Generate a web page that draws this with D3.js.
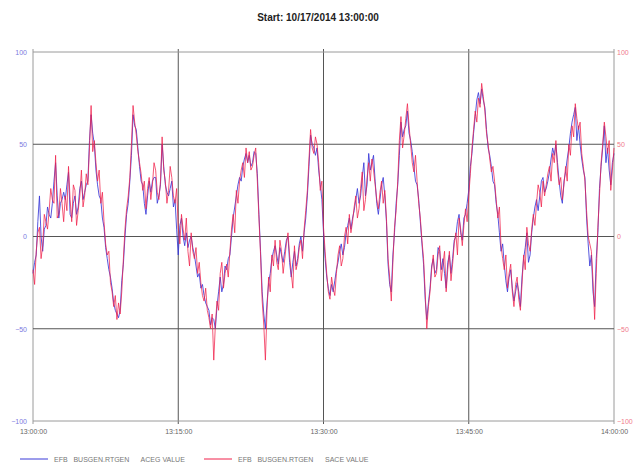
<!DOCTYPE html>
<html>
<head>
<meta charset="utf-8">
<script src="https://cdn.jsdelivr.net/npm/d3@7"></script>
<style>
  body { margin: 0; background: #fff; }
  text { font-family: "Liberation Sans", Arial, sans-serif; }
</style>
</head>
<body>
<svg width="634" height="467"></svg>
<script>
// Data (sampled every 10 seconds, 13:00:00 - 14:00:00)
var startTime = new Date(2014, 9, 17, 13, 0, 0);
var stepSeconds = 10;

var acegValues = [
  -20,-14,-10,8,22,0,-8,4,6,16,12,10,18,30,40,22,10,18,20,24,
  20,28,35,12,10,18,22,12,16,26,30,20,24,28,30,52,66,56,50,36,
  28,22,20,10,5,-6,-12,-18,-22,-28,-36,-40,-42,-44,-40,-24,-15,0,12,18,
  30,44,66,60,58,48,38,30,28,18,12,22,30,24,30,32,32,18,22,28,
  50,38,28,24,22,26,30,16,20,4,-10,6,10,0,-5,2,-6,-2,0,-6,
  -10,-16,-22,-20,-28,-26,-32,-36,-38,-40,-48,-44,-45,-50,-38,-30,-22,-30,-26,-16,
  -18,-12,-10,0,10,16,22,28,32,30,38,42,45,40,44,38,40,46,45,34,
  12,-8,-30,-42,-50,-36,-25,-20,-12,-8,-5,-10,-15,-6,-10,-14,-8,-2,0,-14,
  -22,-14,-8,-16,-12,-4,0,-8,2,10,22,38,55,50,48,44,48,36,28,20,
  2,-12,-22,-28,-32,-26,-30,-24,-18,-14,-8,-4,-10,-6,2,6,10,4,10,14,
  20,26,18,22,32,40,22,28,45,36,40,44,30,18,12,20,28,32,22,8,
  -15,-26,-30,-10,2,18,28,44,62,54,58,60,68,56,52,46,38,30,28,20,
  8,-4,-15,-34,-45,-36,-28,-16,-12,-20,-18,-6,-8,-18,-12,-20,-28,-14,-10,-20,
  -12,-2,0,8,12,2,-2,10,12,18,25,38,45,56,65,74,78,72,80,74,
  70,58,48,44,38,30,28,18,12,2,-8,-4,-15,-24,-30,-22,-18,-28,-35,-30,
  -25,-30,-38,-22,-12,-6,2,-14,-10,2,10,16,20,14,22,30,32,24,26,30,
  35,42,48,44,50,40,30,22,18,30,35,42,48,56,62,66,70,52,60,50,
  42,36,32,10,-4,-16,-10,-30,-38,-12,2,26,38,48,60,40,48,36,28,40,
  45
];

var saceValues = [
  -18,-26,-8,2,5,-12,-5,12,8,4,14,26,20,18,44,10,12,26,18,8,
  22,14,38,20,8,28,25,6,14,22,36,16,22,34,28,48,71,46,52,40,
  30,36,18,24,8,-4,-10,-8,-25,-30,-38,-32,-45,-36,-42,-30,-12,4,15,22,
  32,50,71,62,55,46,40,34,25,30,15,26,32,20,28,40,36,24,20,30,
  54,36,30,18,25,38,32,22,18,26,5,-4,12,4,-2,10,-8,-16,2,-8,
  -12,-6,-20,-14,-25,-32,-35,-28,-40,-44,-50,-42,-67,-48,-35,-40,-20,-14,-28,-20,
  -15,-22,-8,4,12,2,25,18,30,36,40,32,48,40,46,36,38,44,48,30,
  10,-10,-35,-48,-67,-40,-22,-30,-10,-16,-2,-14,-18,-2,-8,-20,-12,-4,2,-10,
  -20,-28,-5,-18,-14,-6,-2,-12,4,14,25,42,58,48,45,54,50,40,25,30,
  5,-8,-20,-30,-34,-22,-28,-32,-20,-10,-5,-16,-12,0,5,-4,12,2,8,16,
  22,10,15,26,35,14,20,32,40,30,42,36,28,20,15,24,30,18,25,10,
  -12,-22,-35,-14,5,14,30,52,65,48,55,64,72,60,50,40,35,44,30,18,
  10,-2,-12,-30,-50,-38,-30,-18,-10,-22,-20,-10,-5,-24,-15,-8,-30,-18,-8,-24,
  -15,-4,2,-10,10,4,-5,6,15,8,22,34,48,58,68,62,75,70,83,76,
  68,56,50,42,35,38,30,20,10,16,-5,-12,-18,-10,-28,-20,-15,-30,-38,-26,
  -22,-34,-40,-26,-10,-18,5,-4,-8,4,12,6,18,28,24,16,30,22,28,34,
  38,30,45,40,52,36,28,32,20,28,38,30,50,44,60,54,72,64,58,62,
  45,38,30,14,0,-4,-8,-24,-45,-20,5,22,40,50,62,54,45,52,25,36,
  48
];

var yTicks = [100, 50, 0, -50, -100];
var seriesNames = ["EFB   BUSGEN.RTGEN      ACEG VALUE", "EFB   BUSGEN.RTGEN      SACE VALUE"];
var seriesColors = ["#3a3ad8", "#f0204a"];

var svg = d3.select("svg");
var margin = { top: 52, right: 20, bottom: 46, left: 33 };
var width = +svg.attr("width") - margin.left - margin.right;
var height = +svg.attr("height") - margin.top - margin.bottom;

var chartG = svg.append("g")
    .attr("transform", "translate(" + margin.left + "," + margin.top + ")");

var endTime = new Date(startTime.getTime() + 3600 * 1000);
var xScale = d3.scaleTime().domain([startTime, endTime]).range([0, width]);
var yScale = d3.scaleLinear().domain([-100, 100]).range([height, 0]);

function timeAt(i) {
    return new Date(startTime.getTime() + i * stepSeconds * 1000);
}

// Grid
var xGridTicks = d3.range(0, 5).map(function (k) { return new Date(startTime.getTime() + k * 15 * 60000); });

chartG.selectAll(".vgrid").data(xGridTicks).enter().append("line")
    .attr("class", "vgrid")
    .attr("x1", d => xScale(d)).attr("x2", d => xScale(d))
    .attr("y1", -3).attr("y2", height + 3)
    .attr("stroke", d => (+d === +startTime || +d === +endTime) ? "#9a9a9a" : "#555")
    .attr("stroke-width", 1);

chartG.selectAll(".hgrid").data(yTicks).enter().append("line")
    .attr("class", "hgrid")
    .attr("x1", 0).attr("x2", width)
    .attr("y1", d => yScale(d)).attr("y2", d => yScale(d))
    .attr("stroke", d => Math.abs(d) === 100 ? "#9a9a9a" : "#555")
    .attr("stroke-width", 1);

// Lines
var line = d3.line()
    .x((d, i) => xScale(timeAt(i)))
    .y(d => yScale(d));

chartG.append("path")
    .datum(acegValues)
    .attr("fill", "none")
    .attr("stroke", seriesColors[0])
    .attr("stroke-width", 1)
    .attr("opacity", 0.85)
    .attr("d", line);

chartG.append("path")
    .datum(saceValues)
    .attr("fill", "none")
    .attr("stroke", seriesColors[1])
    .attr("stroke-width", 1)
    .attr("opacity", 0.75)
    .attr("d", line);

// Axes labels
var xAxis = d3.axisBottom(xScale)
    .tickValues(xGridTicks)
    .tickFormat(d3.timeFormat("%H:%M:%S"))
    .tickSize(0).tickPadding(8);

var xAxisG = chartG.append("g")
    .attr("transform", "translate(0," + height + ")")
    .call(xAxis);
xAxisG.select(".domain").remove();
xAxisG.selectAll("text").attr("fill", "#666").style("font-size", "7px");

var yAxisLeft = d3.axisLeft(yScale).tickValues(yTicks).tickSize(0).tickPadding(6);
var yLeftG = chartG.append("g").call(yAxisLeft);
yLeftG.select(".domain").remove();
yLeftG.selectAll("text").attr("fill", "#7a7ae0").style("font-size", "7px");

var yAxisRight = d3.axisRight(yScale).tickValues(yTicks).tickSize(0).tickPadding(3);
var yRightG = chartG.append("g").attr("transform", "translate(" + width + ",0)").call(yAxisRight);
yRightG.select(".domain").remove();
yRightG.selectAll("text").attr("fill", "#f07a8a").style("font-size", "7px");

// Title
svg.append("text")
    .attr("x", 318)
    .attr("y", 21)
    .attr("text-anchor", "middle")
    .style("font-size", "10px")
    .style("font-weight", "bold")
    .attr("fill", "#222")
    .text("Start: 10/17/2014 13:00:00");

// Legend
var legendX = [20, 204];
var legendG = svg.append("g").attr("transform", "translate(0,459)");
seriesNames.forEach(function (name, k) {
    legendG.append("line")
        .attr("x1", legendX[k]).attr("x2", legendX[k] + 28)
        .attr("y1", 0).attr("y2", 0)
        .attr("stroke", seriesColors[k])
        .attr("stroke-width", 1);
    legendG.append("text")
        .attr("x", legendX[k] + 34)
        .attr("y", 2.5)
        .attr("fill", "#777")
        .style("font-size", "7px")
        .style("white-space", "pre")
        .text(name);
});
</script>
</body>
</html>
